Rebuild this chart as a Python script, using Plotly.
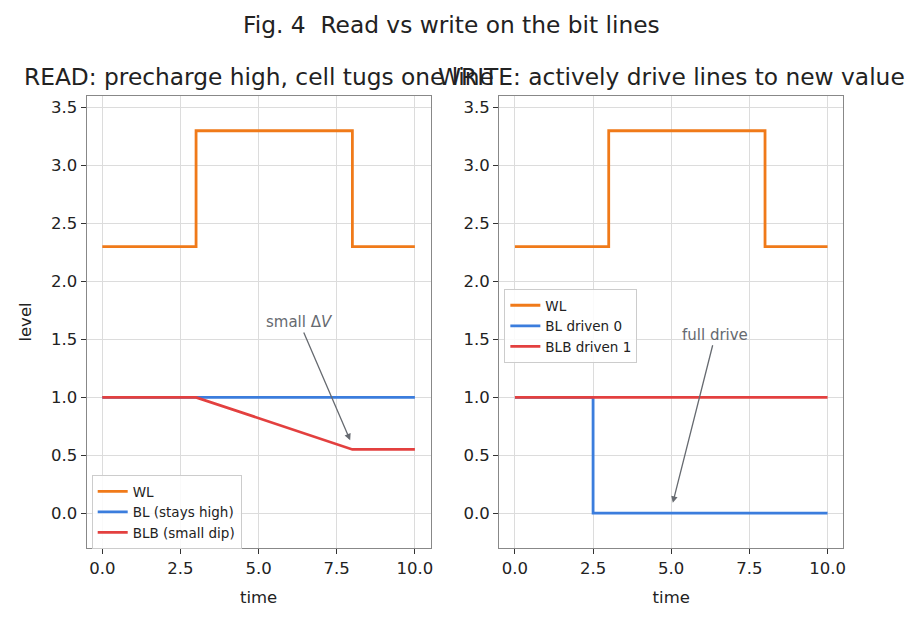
import plotly.graph_objects as go

# ---- data ----
t_wl = [0, 3, 3, 8, 8, 10]
wl = [2.3, 2.3, 3.3, 3.3, 2.3, 2.3]

read_t_bl = [0, 10]
read_bl = [1.0, 1.0]
read_t_blb = [0, 3, 8, 10]
read_blb = [1.0, 1.0, 0.55, 0.55]

write_t_bl = [0, 2.5, 2.5, 10]
write_bl = [1.0, 1.0, 0.0, 0.0]
write_t_blb = [0, 10]
write_blb = [1.0, 1.0]

xticks = [0, 2.5, 5, 7.5, 10]
xticklabels = ["0.0", "2.5", "5.0", "7.5", "10.0"]
yticks = [0, 0.5, 1.0, 1.5, 2.0, 2.5, 3.0, 3.5]
yticklabels = ["0.0", "0.5", "1.0", "1.5", "2.0", "2.5", "3.0", "3.5"]

ORANGE = "#f07a19"
BLUE = "#3b7ddd"
RED = "#e3403f"
FONT = "DejaVu Sans"
TICK = 16.5
TITLE = 23.3

fig = go.Figure()

def line(x, y, name, color, xa, ya, leg):
    fig.add_trace(go.Scatter(x=x, y=y, mode="lines", name=name,
                             line=dict(color=color, width=2.8),
                             xaxis=xa, yaxis=ya, legend=leg))

line(t_wl, wl, "WL", ORANGE, "x", "y", "legend")
line(read_t_bl, read_bl, "BL (stays high)", BLUE, "x", "y", "legend")
line(read_t_blb, read_blb, "BLB (small dip)", RED, "x", "y", "legend")

line(t_wl, wl, "WL", ORANGE, "x2", "y2", "legend2")
line(write_t_bl, write_bl, "BL driven 0", BLUE, "x2", "y2", "legend2")
line(write_t_blb, write_blb, "BLB driven 1", RED, "x2", "y2", "legend2")

axis_common = dict(showline=True, mirror=True, linecolor="#888888", linewidth=1.3,
                   showgrid=True, gridcolor="#dcdcdc", gridwidth=0.8,
                   ticks="outside", ticklen=5, tickcolor="#333333",
                   tickfont=dict(size=TICK, color="#222222", family=FONT),
                   zeroline=False)

xl = [0.0945, 0.4695]
xr = [0.5445, 0.9195]
yd = [0.119, 0.8457]

fig.update_layout(
    width=920, height=622,
    margin=dict(l=0, r=0, t=0, b=0),
    paper_bgcolor="white", plot_bgcolor="white",
    font=dict(family=FONT, color="#222222"),
    xaxis=dict(domain=xl, range=[-0.5, 10.5], tickvals=xticks, ticktext=xticklabels,
               title=dict(text="time", font=dict(size=TICK), standoff=14), anchor="y", **axis_common),
    yaxis=dict(domain=yd, range=[-0.3, 3.6], tickvals=yticks, ticktext=yticklabels,
               title=dict(text="level", font=dict(size=TICK), standoff=15), anchor="x", **axis_common),
    xaxis2=dict(domain=xr, range=[-0.5, 10.5], tickvals=xticks, ticktext=xticklabels,
                title=dict(text="time", font=dict(size=TICK), standoff=14), anchor="y2", **axis_common),
    yaxis2=dict(domain=yd, range=[-0.3, 3.6], tickvals=yticks, ticktext=yticklabels,
                anchor="x2", **axis_common),
    legend=dict(x=0.1, y=0.2363, xanchor="left", yanchor="top",
                bgcolor="rgba(255,255,255,0.85)", bordercolor="#cccccc", borderwidth=1,
                font=dict(size=13.5, family=FONT), tracegroupgap=0, itemwidth=30),
    legend2=dict(x=0.55, y=0.5354, xanchor="left", yanchor="top",
                 bgcolor="rgba(255,255,255,0.85)", bordercolor="#cccccc", borderwidth=1,
                 font=dict(size=13.5, family=FONT), tracegroupgap=0, itemwidth=30),
    showlegend=True,
)

annos = [
    dict(text="Fig. 4  Read vs write on the bit lines", x=453 / 920, y=1 - 24 / 622,
         xref="paper", yref="paper", showarrow=False, font=dict(size=TITLE, family=FONT),
         xanchor="center", yanchor="middle"),
    dict(text="READ: precharge high, cell tugs one line", x=sum(xl) / 2, y=1 - 77 / 622,
         xref="paper", yref="paper", showarrow=False, font=dict(size=TITLE, family=FONT),
         xanchor="center", yanchor="middle"),
    dict(text="WRITE: actively drive lines to new value", x=sum(xr) / 2, y=1 - 77 / 622,
         xref="paper", yref="paper", showarrow=False, font=dict(size=TITLE, family=FONT),
         xanchor="center", yanchor="middle"),
    dict(text="small Δ<i>V</i>", x=7.93, y=0.63, xref="x", yref="y",
         ax=6.3, ay=1.65, axref="x", ayref="y", showarrow=True,
         arrowhead=2, arrowsize=1, arrowwidth=1.3, arrowcolor="#666a70",
         font=dict(size=15, color="#666a70", family=FONT)),
    dict(text="full drive", x=5.05, y=0.09, xref="x2", yref="y2",
         ax=6.41, ay=1.54, axref="x2", ayref="y2", showarrow=True,
         arrowhead=2, arrowsize=1, arrowwidth=1.3, arrowcolor="#666a70",
         font=dict(size=15, color="#666a70", family=FONT)),
]
fig.update_layout(annotations=annos)

fig.write_html("out.html")
